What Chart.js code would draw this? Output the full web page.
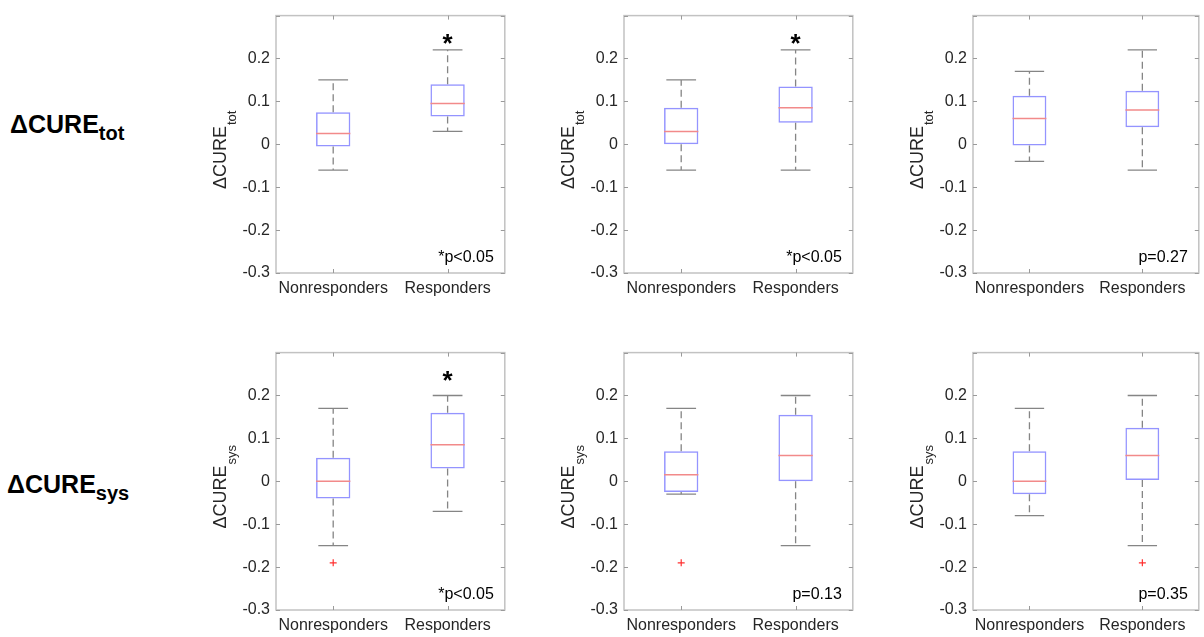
<!DOCTYPE html>
<html>
<head>
<meta charset="utf-8">
<script src="https://cdn.jsdelivr.net/npm/chart.js@4.4.1/dist/chart.umd.min.js"></script>
<style>
  body { margin: 0; background: #fff; width: 1204px; height: 637px; position: relative; overflow: hidden; font-family: "Liberation Sans", Arial, sans-serif; }
  .panel { position: absolute; }
  .rowlabel { position: absolute; font-weight: bold; font-size: 25px; line-height: 25px; color: #000; white-space: nowrap; }
  .rowlabel sub { font-size: 20px; line-height: 0; vertical-align: -7px; }
</style>
</head>
<body>
<div class="rowlabel" style="left:10px; top:112px;">ΔCURE<sub>tot</sub></div>
<div class="rowlabel" style="left:7px; top:472px;">ΔCURE<sub>sys</sub></div>

<canvas id="p0" class="panel" width="320" height="300" style="left:190px; top:0px;"></canvas>
<canvas id="p1" class="panel" width="320" height="300" style="left:538px; top:0px;"></canvas>
<canvas id="p2" class="panel" width="317" height="300" style="left:887px; top:0px;"></canvas>
<canvas id="p3" class="panel" width="320" height="300" style="left:190px; top:337px;"></canvas>
<canvas id="p4" class="panel" width="320" height="300" style="left:538px; top:337px;"></canvas>
<canvas id="p5" class="panel" width="317" height="300" style="left:887px; top:337px;"></canvas>

<script>
// groups on the x axis and the y ticks shared by every panel
const groups = ['Nonresponders', 'Responders'];
const yTicks = [-0.3, -0.2, -0.1, 0, 0.1, 0.2, 0.3];

// one entry per panel: top row = tot, bottom row = sys; inner pair = [Nonresponders, Responders]
const whiskerLow  = [[-0.06, 0.03], [-0.06, -0.06], [-0.04, -0.06], [-0.15, -0.07], [-0.03, -0.15], [-0.08, -0.15]];
const q1          = [[-0.005, 0.065], [0, 0.05], [-0.003, 0.04], [-0.04, 0.03], [-0.025, 0], [-0.03, 0.003]];
const medians     = [[0.025, 0.095], [0.03, 0.085], [0.06, 0.08], [0, 0.085], [0.015, 0.06], [0, 0.06]];
const q3          = [[0.075, 0.14], [0.085, 0.135], [0.113, 0.125], [0.055, 0.16], [0.07, 0.155], [0.07, 0.125]];
const whiskerHigh = [[0.15, 0.22], [0.15, 0.22], [0.17, 0.22], [0.17, 0.2], [0.17, 0.2], [0.17, 0.2]];
const outliers    = [[null, null], [null, null], [null, null], [-0.19, null], [-0.19, null], [null, -0.19]];

const pLabels   = ['*p<0.05', '*p<0.05', 'p=0.27', '*p<0.05', 'p=0.13', 'p=0.35'];
const starred   = [true, true, false, true, false, false];
const measures  = ['tot', 'tot', 'tot', 'sys', 'sys', 'sys'];
const starValue = 0.245;

const FONT = '"Liberation Sans", Arial, sans-serif';
const TEXT = '#262626';

// box frame with inward ticks on all four sides, matlab style
const framePlugin = {
  id: 'frame',
  afterDraw(chart) {
    const { ctx, chartArea: a, scales: { x, y } } = chart;
    ctx.save();
    ctx.strokeStyle = '#c2c2c2';
    ctx.lineWidth = 1.5;
    ctx.strokeRect(a.left, a.top, a.right - a.left, a.bottom - a.top);
    ctx.strokeStyle = '#9a9a9a';
    ctx.lineWidth = 1;
    ctx.beginPath();
    y.ticks.forEach(t => {
      const py = Math.round(y.getPixelForValue(t.value)) + 0.5;
      ctx.moveTo(a.left, py); ctx.lineTo(a.left + 4, py);
      ctx.moveTo(a.right, py); ctx.lineTo(a.right - 4, py);
    });
    groups.forEach((g, j) => {
      const px = Math.round(x.getPixelForValue(j)) + 0.5;
      ctx.moveTo(px, a.bottom); ctx.lineTo(px, a.bottom - 4);
      ctx.moveTo(px, a.top); ctx.lineTo(px, a.top + 4);
    });
    ctx.stroke();
    ctx.restore();
  }
};

// whiskers, caps, medians and the text overlays
const boxPlugin = {
  id: 'boxExtras',
  afterDatasetsDraw(chart, args, opts) {
    const i = opts.panel;
    const { ctx, chartArea: a, scales: { x, y } } = chart;
    const meta = chart.getDatasetMeta(0);
    const step = x.getPixelForValue(1) - x.getPixelForValue(0);
    const capHalf = step * 0.13;
    ctx.save();
    groups.forEach((g, j) => {
      const cx = x.getPixelForValue(j);
      const half = meta.data[j].width / 2;
      // dashed whiskers
      ctx.strokeStyle = '#858585';
      ctx.lineWidth = 1.3;
      ctx.setLineDash([7, 4]);
      ctx.beginPath();
      ctx.moveTo(cx, y.getPixelForValue(q3[i][j]));
      ctx.lineTo(cx, y.getPixelForValue(whiskerHigh[i][j]));
      ctx.moveTo(cx, y.getPixelForValue(q1[i][j]));
      ctx.lineTo(cx, y.getPixelForValue(whiskerLow[i][j]));
      ctx.stroke();
      // caps
      ctx.setLineDash([]);
      ctx.beginPath();
      [whiskerHigh[i][j], whiskerLow[i][j]].forEach(v => {
        const py = y.getPixelForValue(v);
        ctx.moveTo(cx - capHalf, py); ctx.lineTo(cx + capHalf, py);
      });
      ctx.stroke();
      // median
      ctx.strokeStyle = '#f28a8a';
      ctx.lineWidth = 1.5;
      ctx.beginPath();
      const my = y.getPixelForValue(medians[i][j]);
      ctx.moveTo(cx - half, my); ctx.lineTo(cx + half, my);
      ctx.stroke();
    });

    // significance star over the responders box
    if (starred[i]) {
      ctx.font = 'bold 26px ' + FONT;
      ctx.fillStyle = '#000';
      ctx.textAlign = 'center';
      ctx.textBaseline = 'alphabetic';
      const m = ctx.measureText('*');
      const cy = y.getPixelForValue(starValue);
      const base = cy - (m.actualBoundingBoxDescent - m.actualBoundingBoxAscent) / 2;
      ctx.fillText('*', x.getPixelForValue(1), base);
    }

    // p value in the lower right corner
    ctx.font = '16px ' + FONT;
    ctx.fillStyle = '#000';
    ctx.textAlign = 'right';
    ctx.textBaseline = 'alphabetic';
    ctx.fillText(pLabels[i], a.right - 11, a.bottom - 11);

    // rotated y title with subscript
    ctx.translate(a.left - 50, (a.top + a.bottom) / 2 + 6);
    ctx.rotate(-Math.PI / 2);
    ctx.fillStyle = TEXT;
    ctx.textAlign = 'left';
    ctx.font = '18px ' + FONT;
    const main = 'ΔCURE';
    const wMain = ctx.measureText(main).width;
    ctx.font = '13px ' + FONT;
    const wSub = ctx.measureText(measures[i]).width;
    const start = -(wMain + wSub) / 2;
    ctx.font = '18px ' + FONT;
    ctx.fillText(main, start, 0);
    ctx.font = '13px ' + FONT;
    ctx.fillText(measures[i], start + wMain + 1, 10);
    ctx.restore();
  }
};

function makePanel(i) {
  const canvas = document.getElementById('p' + i);
  const rightPad = canvas.width - 86 - 230;
  return new Chart(canvas, {
    type: 'bar',
    data: {
      labels: groups,
      datasets: [{
        type: 'bar',
        data: groups.map((g, j) => [q1[i][j], q3[i][j]]),
        backgroundColor: 'rgba(0,0,0,0)',
        borderColor: '#9494ff',
        borderWidth: 1.5,
        borderSkipped: false,
        barPercentage: 0.3,
        categoryPercentage: 1
      }, {
        type: 'line',
        data: outliers[i],
        showLine: false,
        pointStyle: 'cross',
        pointRadius: 3.5,
        pointBorderWidth: 1.2,
        borderColor: '#ff3030',
        backgroundColor: '#ff3030'
      }]
    },
    options: {
      responsive: false,
      animation: false,
      events: [],
      layout: { padding: { top: 6, right: rightPad, left: 0, bottom: 0 } },
      plugins: {
        legend: { display: false },
        tooltip: { enabled: false },
        boxExtras: { panel: i }
      },
      scales: {
        x: {
          grid: { display: false, drawTicks: false },
          border: { display: false },
          ticks: { color: TEXT, font: { family: FONT, size: 16 }, padding: 6, maxRotation: 0 },
          afterFit: s => { s.height = 27; }
        },
        y: {
          min: -0.3,
          max: 0.3,
          grid: { display: false, drawTicks: false },
          border: { display: false },
          afterBuildTicks: s => { s.ticks = yTicks.map(v => ({ value: v })); },
          ticks: {
            color: TEXT,
            font: { family: FONT, size: 16 },
            padding: 6,
            callback: v => (Math.abs(v - 0.3) < 1e-9 ? '' : String(parseFloat(v.toFixed(1))))
          },
          afterFit: s => { s.width = 86; }
        }
      }
    },
    plugins: [framePlugin, boxPlugin]
  });
}

for (let i = 0; i < 6; i++) makePanel(i);
</script>
</body>
</html>
